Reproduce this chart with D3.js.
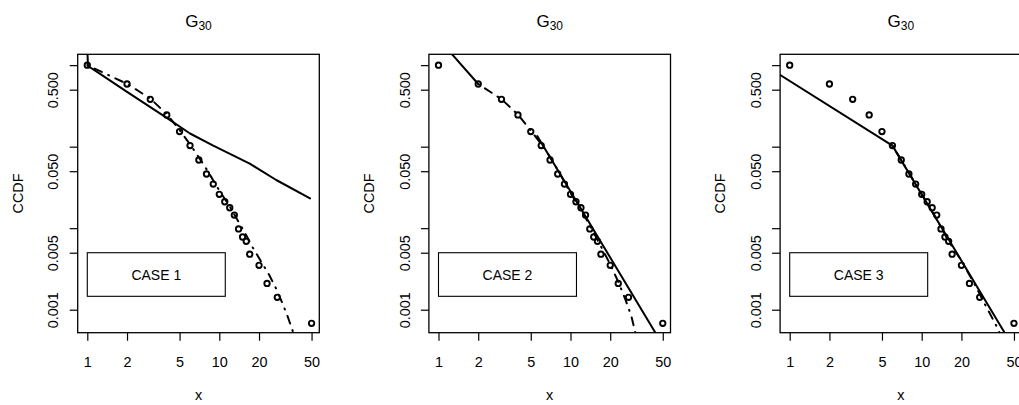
<!DOCTYPE html>
<html>
<head>
<meta charset="utf-8">
<script src="https://cdn.jsdelivr.net/npm/d3@7"></script>
<style>
  body { margin: 0; background: #fff; }
  svg text { font-family: "Liberation Sans", Arial, sans-serif; fill: #000; }
</style>
</head>
<body>
<svg id="chart"></svg>
<script>
// empirical CCDF points (same in every panel)
const pointX = [1, 2, 3, 4, 5, 6, 7, 8, 9, 10, 11, 12, 13, 14, 15, 16, 17, 20, 23, 27.5, 50];
const pointY = [1.0, 0.587, 0.381, 0.245, 0.153, 0.103, 0.0686, 0.0462, 0.0348, 0.026, 0.0211,
  0.0178, 0.0145, 0.0098, 0.0078, 0.0069, 0.0048, 0.0035, 0.0021, 0.00142, 0.00068];

const xTicks = [1, 2, 5, 10, 20, 50];
const yTicks = [0.001, 0.005, 0.01, 0.05, 0.1, 0.5, 1];
const yTickLabels = ["0.001", "0.005", "", "0.050", "", "0.500", ""];
const caseLabels = ["CASE 1", "CASE 2", "CASE 3"];

// fitted curves, [x, ccdf]
const case1Solid = [[1.0, 1.6], [1.012, 0.977], [1.25, 0.78], [2, 0.47], [4, 0.225], [6, 0.145],
  [9, 0.103], [17, 0.062], [27, 0.039], [48.7, 0.0232]];
const case1DotDash = [[1, 1.0], [2, 0.59], [3, 0.39], [4, 0.25], [5, 0.16], [6, 0.107], [7, 0.074],
  [8, 0.053], [10, 0.029], [12, 0.0185], [13.5, 0.0132], [15.7, 0.0087], [17.8, 0.0059], [20, 0.0043],
  [23.9, 0.00266], [27, 0.0018], [30.1, 0.0012], [33, 0.00082], [36.4, 0.00052], [38, 0.0004]];

const case2SolidA = [[1.2, 1.5], [2, 0.587]];
const case2SolidB = [[5.6, 0.135], [45, 0.00049]];
const case2DotDash = [[2, 0.587], [3, 0.383], [4, 0.247], [5, 0.157], [6, 0.108], [7, 0.075],
  [8, 0.052], [10, 0.027], [12, 0.017], [14, 0.0108], [16, 0.0072], [18, 0.005], [20, 0.0036],
  [23, 0.0022], [26, 0.00135], [29, 0.00082], [31, 0.00052], [32, 0.0004]];

const case3Solid = [[0.8, 0.804], [6, 0.103], [43.5, 0.00049]];
const case3DotDash = [[6, 0.103], [8, 0.048], [10, 0.0262], [13, 0.0128], [16, 0.0069], [20, 0.004],
  [25, 0.0021], [30, 0.00118], [35, 0.00074], [38.5, 0.00055], [40, 0.00046]];

const panels = [
  { label: caseLabels[0], solid: [case1Solid], dotdash: [case1DotDash] },
  { label: caseLabels[1], solid: [case2SolidA, case2SolidB], dotdash: [case2DotDash] },
  { label: caseLabels[2], solid: [case3Solid], dotdash: [case3DotDash] }
];

const width = 1019, height = 405, panelWidth = 351.2;
const plotLeft = 77.7, plotW = 241.6, plotTop = 54.3, plotBottom = 332.7;

const svg = d3.select("#chart").attr("width", width).attr("height", height);

const x = d3.scaleLog()
  .domain([Math.pow(10, -0.0727), Math.pow(10, 1.7576)])
  .range([plotLeft, plotLeft + plotW]);
const y = d3.scaleLog()
  .domain([Math.pow(10, -3.282), Math.pow(10, 0.133)])
  .range([plotBottom, plotTop]);

const line = d3.line().x(d => x(d[0])).y(d => y(d[1]));
const points = pointX.map((d, i) => [d, pointY[i]]);

panels.forEach((p, i) => {
  const g = svg.append("g").attr("transform", "translate(" + i * panelWidth + ",0)");

  g.append("clipPath").attr("id", "clip" + i)
    .append("rect")
    .attr("x", plotLeft).attr("y", plotTop)
    .attr("width", plotW).attr("height", plotBottom - plotTop);

  // x axis
  const xa = g.append("g")
    .attr("transform", "translate(0," + plotBottom + ")")
    .call(d3.axisBottom(x).tickValues(xTicks).tickFormat(d3.format("d")).tickSize(8))
    .attr("font-size", null).attr("font-family", null);
  xa.select(".domain").remove();
  xa.selectAll("line").attr("stroke-width", 1.2);
  xa.selectAll("text").attr("y", 34.5).attr("dy", null).style("font-size", "14.4px");

  // y axis, labels parallel to the axis
  const ya = g.append("g")
    .attr("transform", "translate(" + plotLeft + ",0)")
    .call(d3.axisLeft(y).tickValues(yTicks).tickFormat((d, k) => yTickLabels[k]).tickSize(8))
    .attr("font-size", null).attr("font-family", null);
  ya.select(".domain").remove();
  ya.selectAll("line").attr("stroke-width", 1.2);
  ya.selectAll("text")
    .attr("transform", "rotate(-90)")
    .attr("x", 0).attr("y", -19.4).attr("dy", null)
    .attr("text-anchor", "middle")
    .style("font-size", "14.4px");

  // legend box
  g.append("rect")
    .attr("x", x(1)).attr("y", y(0.005))
    .attr("width", x(11.1) - x(1)).attr("height", y(0.00146) - y(0.005))
    .attr("fill", "none").attr("stroke", "#000").attr("stroke-width", 1.1);
  g.append("text")
    .attr("x", (x(1) + x(11.1)) / 2).attr("y", y(0.0027) + 5)
    .attr("text-anchor", "middle")
    .style("font-size", "14px")
    .text(p.label);

  const lines = g.append("g").attr("clip-path", "url(#clip" + i + ")")
    .attr("fill", "none").attr("stroke", "#000").attr("stroke-width", 2)
    .attr("stroke-linecap", "round").attr("stroke-linejoin", "round");

  p.solid.forEach(s => lines.append("path").attr("d", line(s)));
  p.dotdash.forEach(s => lines.append("path").attr("d", line(s)).attr("stroke-dasharray", "1,7,8,7"));

  g.append("g").selectAll("circle")
    .data(points)
    .enter()
    .append("circle")
    .attr("cx", d => x(d[0]))
    .attr("cy", d => y(d[1]))
    .attr("r", 2.7)
    .attr("fill", "none")
    .attr("stroke", "#000")
    .attr("stroke-width", 1.9);

  // plot frame
  g.append("rect")
    .attr("x", plotLeft).attr("y", plotTop)
    .attr("width", plotW).attr("height", plotBottom - plotTop)
    .attr("fill", "none").attr("stroke", "#000").attr("stroke-width", 1.3);

  // title G[30]
  const t = g.append("text")
    .attr("x", plotLeft + plotW / 2).attr("y", 27.3)
    .attr("text-anchor", "middle")
    .style("font-size", "17px");
  t.append("tspan").text("G");
  t.append("tspan").attr("dy", 2.5).style("font-size", "12px").text("30");

  g.append("text")
    .attr("x", plotLeft + plotW / 2).attr("y", 400.4)
    .attr("text-anchor", "middle")
    .style("font-size", "14.4px")
    .text("x");

  g.append("text")
    .attr("transform", "translate(22.5," + (plotTop + plotBottom) / 2 + ") rotate(-90)")
    .attr("text-anchor", "middle")
    .style("font-size", "14.4px")
    .text("CCDF");
});
</script>
</body>
</html>
